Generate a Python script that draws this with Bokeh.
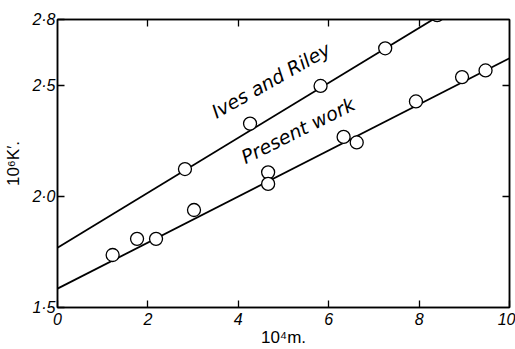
from bokeh.plotting import figure
from bokeh.models import Range1d, LinearAxis, FixedTicker, Label
from bokeh.embed import file_html
from bokeh.resources import INLINE

# ---- data ----
x_ticks = [0, 2, 4, 6, 8, 10]
y_ticks = [1.5, 2.0, 2.5, 2.8]
y_tick_labels = ["1·5", "2·0", "2·5", "2·8"]
top_ticks = [2, 4, 6, 8]
right_ticks = [2.0, 2.5]

ives_x = [2.82, 4.26, 5.82, 7.25, 8.40]
ives_y = [2.125, 2.33, 2.50, 2.67, 2.82]

present_x = [1.22, 1.76, 2.18, 3.02, 4.66, 4.66, 6.33, 6.62, 7.93, 8.95, 9.47]
present_y = [1.737, 1.81, 1.81, 1.94, 2.11, 2.058, 2.27, 2.245, 2.43, 2.54, 2.57]

fit_x = [0, 10]
ives_fit = [1.77, 3.01]
present_fit = [1.585, 2.625]

FONT = "Liberation Sans"

p = figure(width=515, height=349, output_backend="svg", toolbar_location=None,
           x_range=Range1d(0, 10), y_range=Range1d(1.5, 2.8),
           min_border_left=57, min_border_right=6, min_border_top=19,
           min_border_bottom=39, background_fill_color="white",
           border_fill_color="white")
p.grid.visible = False
p.outline_line_color = "black"
p.outline_line_width = 1.5

for ax in p.xaxis + p.yaxis:
    ax.minor_tick_line_color = None
    ax.major_tick_in = 7
    ax.major_tick_out = 0
    ax.major_tick_line_width = 1.3
    ax.axis_line_width = 1.5
    ax.major_label_text_font = FONT
    ax.major_label_text_font_style = "italic"
    ax.major_label_text_font_size = "16px"
    ax.major_label_text_color = "black"
    ax.axis_label_text_font = FONT
    ax.axis_label_text_font_style = "normal"
    ax.axis_label_text_font_size = "17px"
    ax.axis_label_text_color = "black"

p.xaxis.ticker = FixedTicker(ticks=x_ticks)
p.xaxis.major_label_standoff = 5
p.xaxis.axis_label = "10⁴m."
p.xaxis.axis_label_standoff = 0

p.yaxis.ticker = FixedTicker(ticks=y_ticks)
p.yaxis.major_label_overrides = dict(zip(y_ticks, y_tick_labels))
p.yaxis.major_label_standoff = 2
p.yaxis.axis_label = "10⁶K′."
p.yaxis.axis_label_standoff = 6

right = LinearAxis(ticker=FixedTicker(ticks=right_ticks), major_tick_in=7,
                   major_tick_out=0,
                   major_label_overrides={t: "" for t in right_ticks},
                   major_label_standoff=0, minor_tick_line_color=None,
                   axis_line_width=1.5, major_tick_line_width=1.3)
top = LinearAxis(ticker=FixedTicker(ticks=top_ticks), major_tick_in=7,
                 major_tick_out=0,
                 major_label_overrides={t: "" for t in top_ticks},
                 major_label_standoff=0, minor_tick_line_color=None,
                 axis_line_width=1.5, major_tick_line_width=1.3)
p.add_layout(right, "right")
p.add_layout(top, "above")

p.line(fit_x, ives_fit, line_color="black", line_width=1.8)
p.line(fit_x, present_fit, line_color="black", line_width=1.8)

p.scatter(ives_x, ives_y, size=13, fill_color="white", line_color="black", line_width=1.3)
p.scatter(present_x, present_y, size=13, fill_color="white", line_color="black", line_width=1.3)

p.add_layout(Label(x=3.56, y=2.335, text="Ives and Riley", angle=29.5, angle_units="deg",
                   text_font="DejaVu Sans", text_font_style="italic",
                   text_font_size="19px", text_color="black"))
p.add_layout(Label(x=4.2, y=2.13, text="Present work", angle=26.6, angle_units="deg",
                   text_font="DejaVu Sans", text_font_style="italic",
                   text_font_size="19px", text_color="black"))

open("out.html", "w").write(file_html(p, INLINE))
